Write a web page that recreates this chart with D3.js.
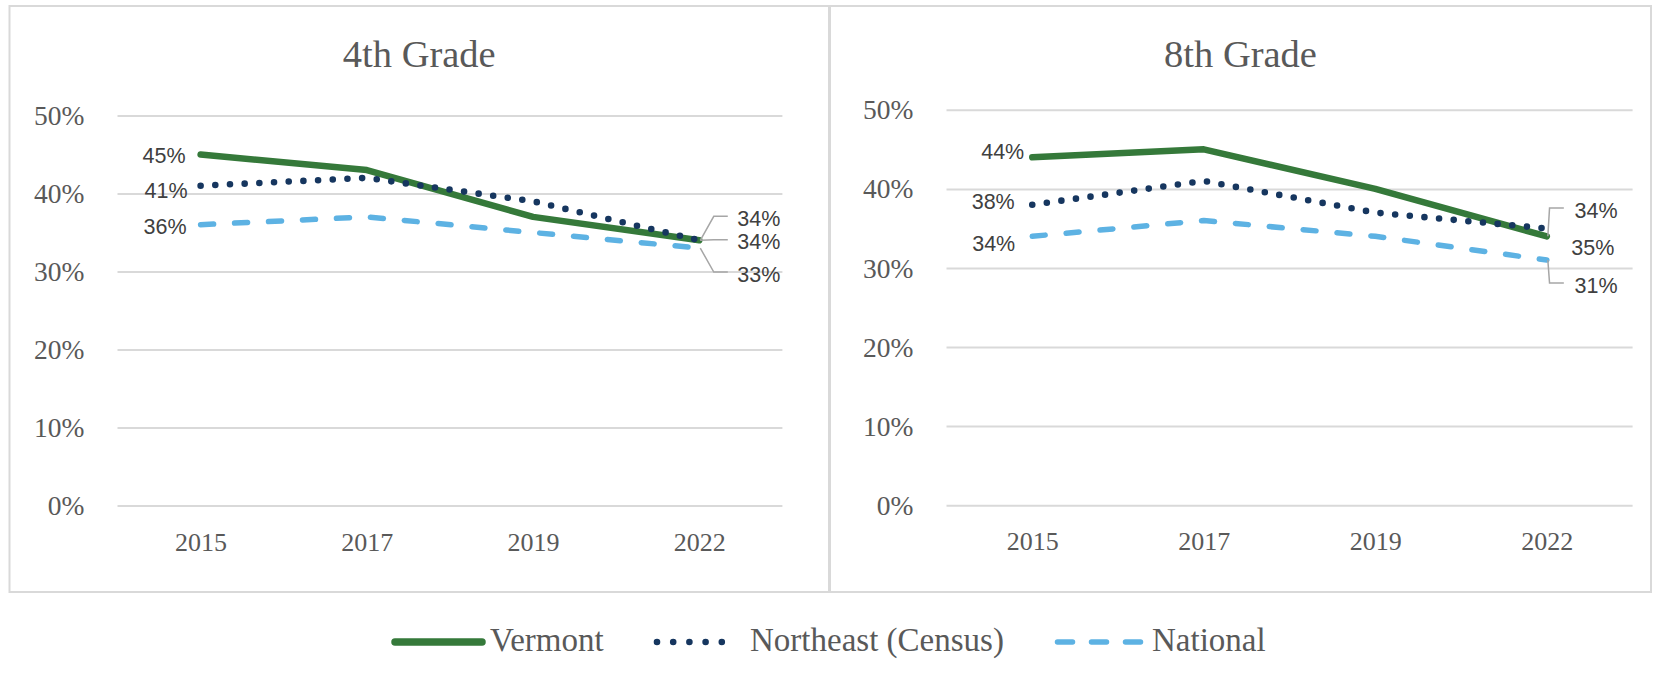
<!DOCTYPE html>
<html>
<head>
<meta charset="utf-8">
<script src="https://cdn.jsdelivr.net/npm/d3@7"></script>
<style>
body { margin: 0; background: #fff; }
</style>
</head>
<body>
<div id="chart"></div>
<script>
// values
const years = ["2015", "2017", "2019", "2022"];
const seriesNames = ["Vermont", "Northeast (Census)", "National"];
const grade4Vermont = [45, 43, 37, 34];
const grade4Northeast = [41, 42, 39, 34];
const grade4National = [36, 37, 35, 33];
const grade8Vermont = [44, 45, 40, 34];
const grade8Northeast = [38, 41, 37, 35];
const grade8National = [34, 36, 34, 31];
const yTicks = [0, 10, 20, 30, 40, 50];
const panelTitles = ["4th Grade", "8th Grade"];

const width = 1659, height = 677;
const serif = "'Palatino Linotype', 'Book Antiqua', Palatino, 'Liberation Serif', serif";
const sans = "'Liberation Sans', Arial, sans-serif";

// one style per series: Vermont solid, Northeast dotted, National dashed
const styles = [
    {color: "#35793a", width: 6.5, dash: null},
    {color: "#16365f", width: 6.6, dash: "0,14.7"},
    {color: "#5db2e3", width: 5.5, dash: "13,21"}
];

// layout of each panel, plus where its data labels sit relative to the points
const panels = [
    {
        title: panelTitles[0],
        series: [grade4Vermont, grade4Northeast, grade4National],
        box: [9.5, 6, 829, 592],
        xr: [117.5, 782.4], yr: [505.5, 115.5],
        start: [[-15, 0.5], [-13, 5], [-14, 1.5]],
        end: [
            {lx: 38, ly: 1.4, elbow: 14.5, stop: 28.5},
            {lx: 38, ly: -22, elbow: 14.5, stop: 28.5},
            {lx: 38, ly: 26, elbow: 14.5, stop: 28.5}
        ]
    },
    {
        title: panelTitles[1],
        series: [grade8Vermont, grade8Northeast, grade8National],
        box: [830, 6, 1651, 592],
        xr: [946.5, 1632.6], yr: [505.2, 109.8],
        start: [[-8, -6], [-17.5, -3], [-17, 7.4]],
        end: [
            {lx: 27.7, ly: -26.4, elbow: 2.7, stop: 17},
            {lx: 24.4, ly: 19, elbow: null},
            {lx: 27.7, ly: 25, elbow: 2.7, stop: 17}
        ]
    }
];

let svg = d3.select("#chart")
    .append("svg")
    .attr("width", width)
    .attr("height", height)
    .attr("viewBox", [0, 0, width, height]);

panels.forEach(p => {
    let g = svg.append("g");

    g.append("rect") // light grey frame around the panel
        .attr("x", p.box[0]).attr("y", p.box[1])
        .attr("width", p.box[2] - p.box[0]).attr("height", p.box[3] - p.box[1])
        .attr("fill", "none").attr("stroke", "#d9d9d9").attr("stroke-width", 2);

    g.append("text")
        .attr("x", (p.box[0] + p.box[2]) / 2).attr("y", 67)
        .attr("text-anchor", "middle")
        .attr("font-family", serif).attr("font-size", 38.5).attr("fill", "#595959")
        .text(p.title);

    let x = d3.scalePoint().domain(years).range(p.xr).padding(0.5);
    let y = d3.scaleLinear().domain([0, 50]).range(p.yr);

    // y axis: gridlines and percent labels
    let yAxis = g.append("g")
        .attr("transform", `translate(${p.xr[0]},0)`)
        .call(d3.axisLeft(y).tickValues(yTicks).tickSize(-(p.xr[1] - p.xr[0])).tickPadding(33).tickFormat(d => d + "%"));
    yAxis.select(".domain").remove();
    yAxis.selectAll(".tick line").attr("stroke", "#d9d9d9").attr("stroke-width", 2);
    yAxis.selectAll(".tick text")
        .attr("font-family", serif).attr("font-size", 27.5).attr("fill", "#595959").attr("dy", "0.33em");

    // x axis: year labels only
    let xAxis = g.append("g")
        .attr("transform", `translate(0,${p.yr[0]})`)
        .call(d3.axisBottom(x).tickSize(0).tickPadding(45));
    xAxis.select(".domain").remove();
    xAxis.selectAll(".tick text")
        .attr("font-family", serif).attr("font-size", 26).attr("fill", "#595959").attr("dy", 0);

    let line = d3.line().x((d, i) => x(years[i])).y(d => y(d));

    p.series.forEach((vals, s) => {
        g.append("path")
            .attr("d", line(vals))
            .attr("fill", "none")
            .attr("stroke", styles[s].color)
            .attr("stroke-width", styles[s].width)
            .attr("stroke-linecap", "round")
            .attr("stroke-linejoin", "round")
            .attr("stroke-dasharray", styles[s].dash);
    });

    // data labels on the first and last year
    p.series.forEach((vals, s) => {
        let px = x(years[0]), py = y(vals[0]);
        g.append("text")
            .attr("x", px + p.start[s][0]).attr("y", py + p.start[s][1])
            .attr("dy", "0.36em").attr("text-anchor", "end")
            .attr("font-family", sans).attr("font-size", 21.5).attr("fill", "#404040")
            .text(vals[0] + "%");

        let n = vals.length - 1;
        let ex = x(years[n]), ey = y(vals[n]);
        let e = p.end[s];
        let cy = ey + e.ly;
        if (e.elbow !== null) {
            g.append("path")
                .attr("d", `M${ex + 1},${ey} L${ex + e.elbow},${cy - 2} L${ex + e.stop},${cy - 2}`)
                .attr("fill", "none").attr("stroke", "#a6a6a6").attr("stroke-width", 1.5);
        }
        g.append("text")
            .attr("x", ex + e.lx).attr("y", cy)
            .attr("dy", "0.36em")
            .attr("font-family", sans).attr("font-size", 21.5).attr("fill", "#404040")
            .text(vals[n] + "%");
    });
});

// legend under both panels
const legendY = 642;
const legendItems = [
    {x0: 395, x1: 482, tx: 490},
    {x0: 657, x1: 738, tx: 750},
    {x0: 1057.5, x1: 1140.5, tx: 1152}
];
const legendStyle = [
    {width: 7.5, dash: null},
    {width: 6.6, dash: "0,16.2"},
    {width: 5.5, dash: "15,19"}
];

seriesNames.forEach((name, i) => {
    let it = legendItems[i];
    svg.append("line")
        .attr("x1", it.x0).attr("x2", it.x1)
        .attr("y1", legendY).attr("y2", legendY)
        .attr("stroke", styles[i].color)
        .attr("stroke-width", legendStyle[i].width)
        .attr("stroke-linecap", "round")
        .attr("stroke-dasharray", legendStyle[i].dash);
    svg.append("text")
        .attr("x", it.tx).attr("y", legendY + 9)
        .attr("font-family", serif).attr("font-size", 33).attr("fill", "#595959")
        .text(name);
});
</script>
</body>
</html>
